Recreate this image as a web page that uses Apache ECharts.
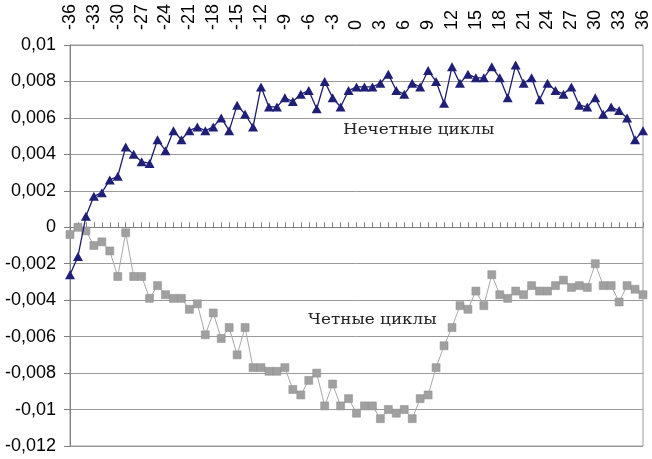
<!DOCTYPE html>
<html>
<head>
<meta charset="utf-8">
<script src="https://cdn.jsdelivr.net/npm/echarts@6/dist/echarts.min.js"></script>
<style>
html,body{margin:0;padding:0;background:#fff;}
#chart{width:652px;height:459px;}
</style>
</head>
<body>
<div id="chart"></div>
<script>
const categories = ['-36','-35','-34','-33','-32','-31','-30','-29','-28','-27','-26','-25','-24','-23','-22','-21','-20','-19','-18','-17','-16','-15','-14','-13','-12','-11','-10','-9','-8','-7','-6','-5','-4','-3','-2','-1','0','1','2','3','4','5','6','7','8','9','10','11','12','13','14','15','16','17','18','19','20','21','22','23','24','25','26','27','28','29','30','31','32','33','34','35','36'];

const oddCycles = [-0.0026,-0.0016,0.0006,0.0017,0.0019,0.0026,0.0028,0.0044,0.0040,0.0036,
  0.0035,0.0048,0.0042,0.0053,0.0048,0.0053,0.0055,0.0053,0.0055,0.0060,
  0.0053,0.0067,0.0062,0.0055,0.0077,0.0066,0.0066,0.0071,0.0069,0.0073,
  0.0075,0.0065,0.0080,0.0071,0.0066,0.0075,0.0077,0.0077,0.0077,0.0079,
  0.0084,0.0075,0.0073,0.0079,0.0077,0.0086,0.0080,0.0068,0.0088,0.0079,
  0.0084,0.0082,0.0082,0.0088,0.0082,0.0071,0.0089,0.0079,0.0082,0.0070,
  0.0079,0.0075,0.0073,0.0077,0.0067,0.0066,0.0071,0.0062,0.0066,0.0064,
  0.0060,0.0048,0.0053];

const evenCycles = [-0.0004,0.0000,-0.0002,-0.0010,-0.0008,-0.0013,-0.0027,-0.0003,-0.0027,-0.0027,
  -0.0039,-0.0032,-0.0037,-0.0039,-0.0039,-0.0045,-0.0042,-0.0059,-0.0047,-0.0061,
  -0.0055,-0.0070,-0.0055,-0.0077,-0.0077,-0.0079,-0.0079,-0.0077,-0.0089,-0.0092,
  -0.0084,-0.0080,-0.0098,-0.0086,-0.0098,-0.0094,-0.0102,-0.0098,-0.0098,-0.0105,
  -0.0100,-0.0102,-0.0100,-0.0105,-0.0094,-0.0092,-0.0077,-0.0065,-0.0055,-0.0043,
  -0.0045,-0.0035,-0.0043,-0.0026,-0.0037,-0.0039,-0.0035,-0.0037,-0.0032,-0.0035,
  -0.0035,-0.0032,-0.0029,-0.0033,-0.0032,-0.0033,-0.0020,-0.0032,-0.0032,-0.0041,
  -0.0032,-0.0034,-0.0037];

const oddName = 'Нечетные циклы';
const evenName = 'Четные циклы';

const chart = echarts.init(document.getElementById('chart'), null, {renderer:'canvas'});
const axisColor = '#808080';
chart.setOption({
  animation: false,
  backgroundColor: '#fff',
  grid: {left:70, right:3, top:45, bottom:13, show:true, borderColor:'#9a9a9a', borderWidth:1},
  xAxis: {
    type:'category', data:categories, position:'top', boundaryGap:false,
    axisLine:{show:true, lineStyle:{color:axisColor, width:1}},
    axisTick:{show:true, interval:0, length:5, inside:false, lineStyle:{color:axisColor}},
    axisLabel:{interval:2, rotate:90, fontSize:18, color:'#000', margin:15, fontFamily:'Liberation Sans, Arial'},
    splitLine:{show:false}
  },
  yAxis: {
    type:'value', min:-0.012, max:0.01, interval:0.002,
    axisLine:{show:true, lineStyle:{color:axisColor, width:1}},
    axisTick:{show:true, length:6, lineStyle:{color:axisColor}},
    axisLabel:{fontSize:18, color:'#000', margin:14, fontFamily:'Liberation Sans, Arial',
      formatter: v => String(Number(v.toFixed(4))).replace('.', ',')},
    splitLine:{show:true, lineStyle:{color:'#9a9a9a', width:1}}
  },
  series: [
    {
      name: evenName, type:'line', data:evenCycles,
      symbol:'rect', symbolSize:8, showAllSymbol:true,
      lineStyle:{color:'#a8a8a8', width:1},
      itemStyle:{color:'#a0a0a0', borderColor:'#8c8c8c', borderWidth:0.5},
      z:2
    },
    {
      name: oddName, type:'line', data:oddCycles,
      symbol:'triangle', symbolSize:[10,9], showAllSymbol:true,
      lineStyle:{color:'#1c1c6e', width:1.3},
      itemStyle:{color:'#1f1f78', borderColor:'#1c1c6e', borderWidth:0},
      z:3
    }
  ],
  graphic: [
    {type:'text', x:343, y:123, scaleX:1.2, style:{text:oddName, font:'14px "DejaVu Serif", serif', fill:'#222'}},
    {type:'text', x:308, y:313, scaleX:1.2, style:{text:evenName, font:'14px "DejaVu Serif", serif', fill:'#222'}}
  ]
});
</script>
</body>
</html>
